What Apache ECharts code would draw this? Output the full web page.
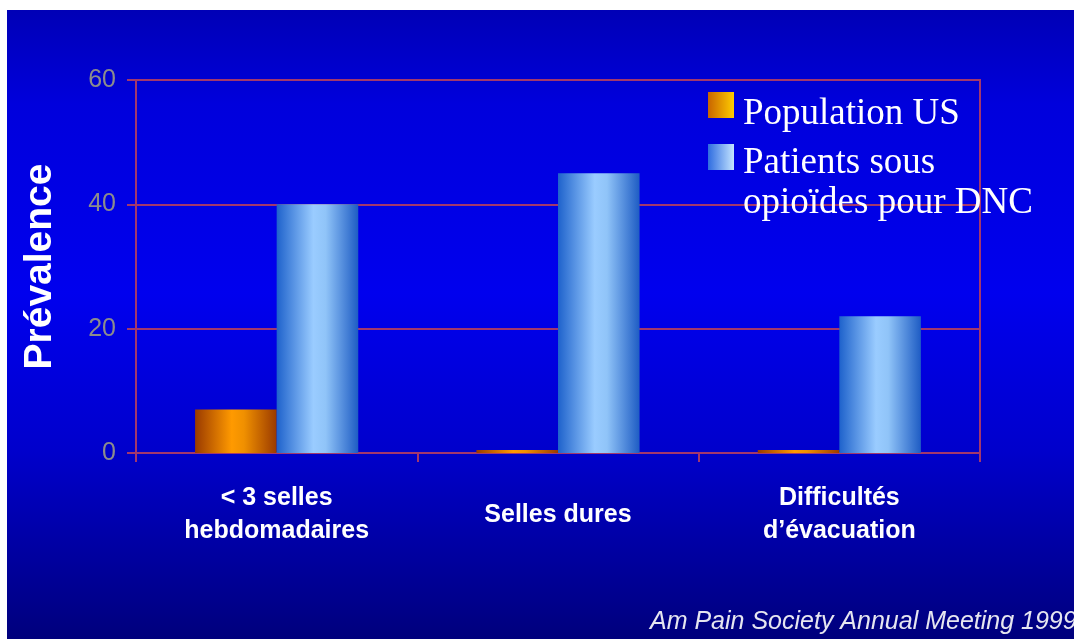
<!DOCTYPE html>
<html>
<head>
<meta charset="utf-8">
<script src="https://cdn.jsdelivr.net/npm/echarts@6/dist/echarts.min.js"></script>
<style>
  html, body { margin: 0; padding: 0; background: #fff; }
  #chart { width: 1074px; height: 639px; }
</style>
</head>
<body>
<div id="chart"></div>
<script>
// données
const categories = ['< 3 selles\nhebdomadaires', 'Selles dures', 'Difficultés\nd’évacuation'];
const populationUS = [7, 0.5, 0.5];
const patientsOpioides = [40, 45, 22];
const seriesNames = ['Population US', 'Patients sous\nopioïdes pour DNC'];
const yTicks = [0, 20, 40, 60];

const lineColor = '#A3386C';
const serif = '"Liberation Serif", "Times New Roman", serif';

let myChart = echarts.init(document.getElementById('chart'));

const orangeBar = new echarts.graphic.LinearGradient(0, 0, 1, 0, [
  { offset: 0, color: '#9A3A00' },
  { offset: 0.45, color: '#FF9A00' },
  { offset: 0.6, color: '#F09000' },
  { offset: 1, color: '#9A3A00' }
]);
const blueBar = new echarts.graphic.LinearGradient(0, 0, 1, 0, [
  { offset: 0, color: '#1E62CC' },
  { offset: 0.45, color: '#9ACCFF' },
  { offset: 0.6, color: '#90C4F8' },
  { offset: 1, color: '#1E5CC4' }
]);

// légende : texte un peu plus bas que le carré, comme dans l'original
function legendText(spacer) {
  return (name) => '{s| }\n' + name.split('\n').map(l => '{t|' + l + '}').join('\n');
}
function legendRich(spacer) {
  return {
    s: { fontSize: 8, lineHeight: spacer },
    t: { color: '#fff', fontFamily: serif, fontSize: 37, lineHeight: 40, padding: [0, 0, 0, 4] }
  };
}

var option = {
  animation: false,
  graphic: [
    {
      type: 'rect',
      z: -10,
      shape: { x: 7, y: 10, width: 1067, height: 629 },
      style: {
        fill: new echarts.graphic.LinearGradient(0, 0, 0, 1, [
          { offset: 0, color: '#0000B6' },
          { offset: 0.15, color: '#0000DC' },
          { offset: 0.45, color: '#0000EE' },
          { offset: 0.7, color: '#0000CC' },
          { offset: 1, color: '#00007C' }
        ])
      }
    },
    {
      type: 'text',
      left: 650,
      top: 610,
      style: {
        text: 'Am Pain Society Annual Meeting 1999',
        fill: '#E6E6F0',
        font: 'italic 25px "Liberation Sans", Arial, sans-serif'
      }
    }
  ],
  grid: {
    left: 136, right: 94, top: 80, bottom: 186,
    show: true,
    borderColor: lineColor,
    borderWidth: 2,
    backgroundColor: 'transparent'
  },
  legend: [
    {
      data: [{
        name: seriesNames[0],
        itemStyle: {
          color: new echarts.graphic.LinearGradient(0, 0, 1, 0, [
            { offset: 0, color: '#C86400' },
            { offset: 1, color: '#FFCC00' }
          ])
        }
      }],
      left: 708, top: 81, padding: 0,
      icon: 'rect',
      itemWidth: 26, itemHeight: 26,
      selectedMode: false,
      formatter: legendText(18),
      textStyle: { color: '#fff', rich: legendRich(18) }
    },
    {
      data: [{
        name: seriesNames[1],
        itemStyle: {
          color: new echarts.graphic.LinearGradient(0, 0, 1, 0, [
            { offset: 0, color: '#2E6CE0' },
            { offset: 1, color: '#C4E4FF' }
          ])
        }
      }],
      left: 708, top: 113, padding: 0,
      icon: 'rect',
      itemWidth: 26, itemHeight: 26,
      selectedMode: false,
      formatter: legendText(53),
      textStyle: { color: '#fff', rich: legendRich(53) }
    }
  ],
  xAxis: {
    type: 'category',
    data: categories,
    axisLine: { lineStyle: { color: lineColor, width: 2 } },
    axisTick: { show: true, length: 9, lineStyle: { color: lineColor, width: 2 } },
    axisLabel: {
      color: '#fff',
      fontFamily: '"Liberation Sans", Arial, sans-serif',
      fontWeight: 'bold',
      fontSize: 25,
      lineHeight: 33,
      verticalAlign: 'middle',
      margin: 62,
      interval: 0
    }
  },
  yAxis: {
    type: 'value',
    min: yTicks[0],
    max: yTicks[yTicks.length - 1],
    interval: 20,
    name: 'Prévalence',
    nameLocation: 'middle',
    nameGap: 76,
    nameTextStyle: {
      color: '#fff',
      fontFamily: '"Liberation Sans", Arial, sans-serif',
      fontWeight: 'bold',
      fontSize: 39
    },
    axisLine: { show: true, lineStyle: { color: lineColor, width: 2 } },
    axisTick: { show: true, length: 9, lineStyle: { color: lineColor, width: 2 } },
    axisLabel: {
      color: '#8C8C8C',
      fontFamily: '"Liberation Sans", Arial, sans-serif',
      fontSize: 25,
      margin: 20
    },
    splitLine: { lineStyle: { color: lineColor, width: 2 } }
  },
  series: [
    {
      name: seriesNames[0],
      type: 'bar',
      data: populationUS,
      barGap: '0%',
      barCategoryGap: '42%',
      itemStyle: { color: orangeBar }
    },
    {
      name: seriesNames[1],
      type: 'bar',
      data: patientsOpioides,
      barGap: '0%',
      barCategoryGap: '42%',
      itemStyle: { color: blueBar }
    }
  ]
};

myChart.setOption(option);
window.addEventListener('resize', () => {
  myChart.resize();
});
</script>
</body>
</html>
